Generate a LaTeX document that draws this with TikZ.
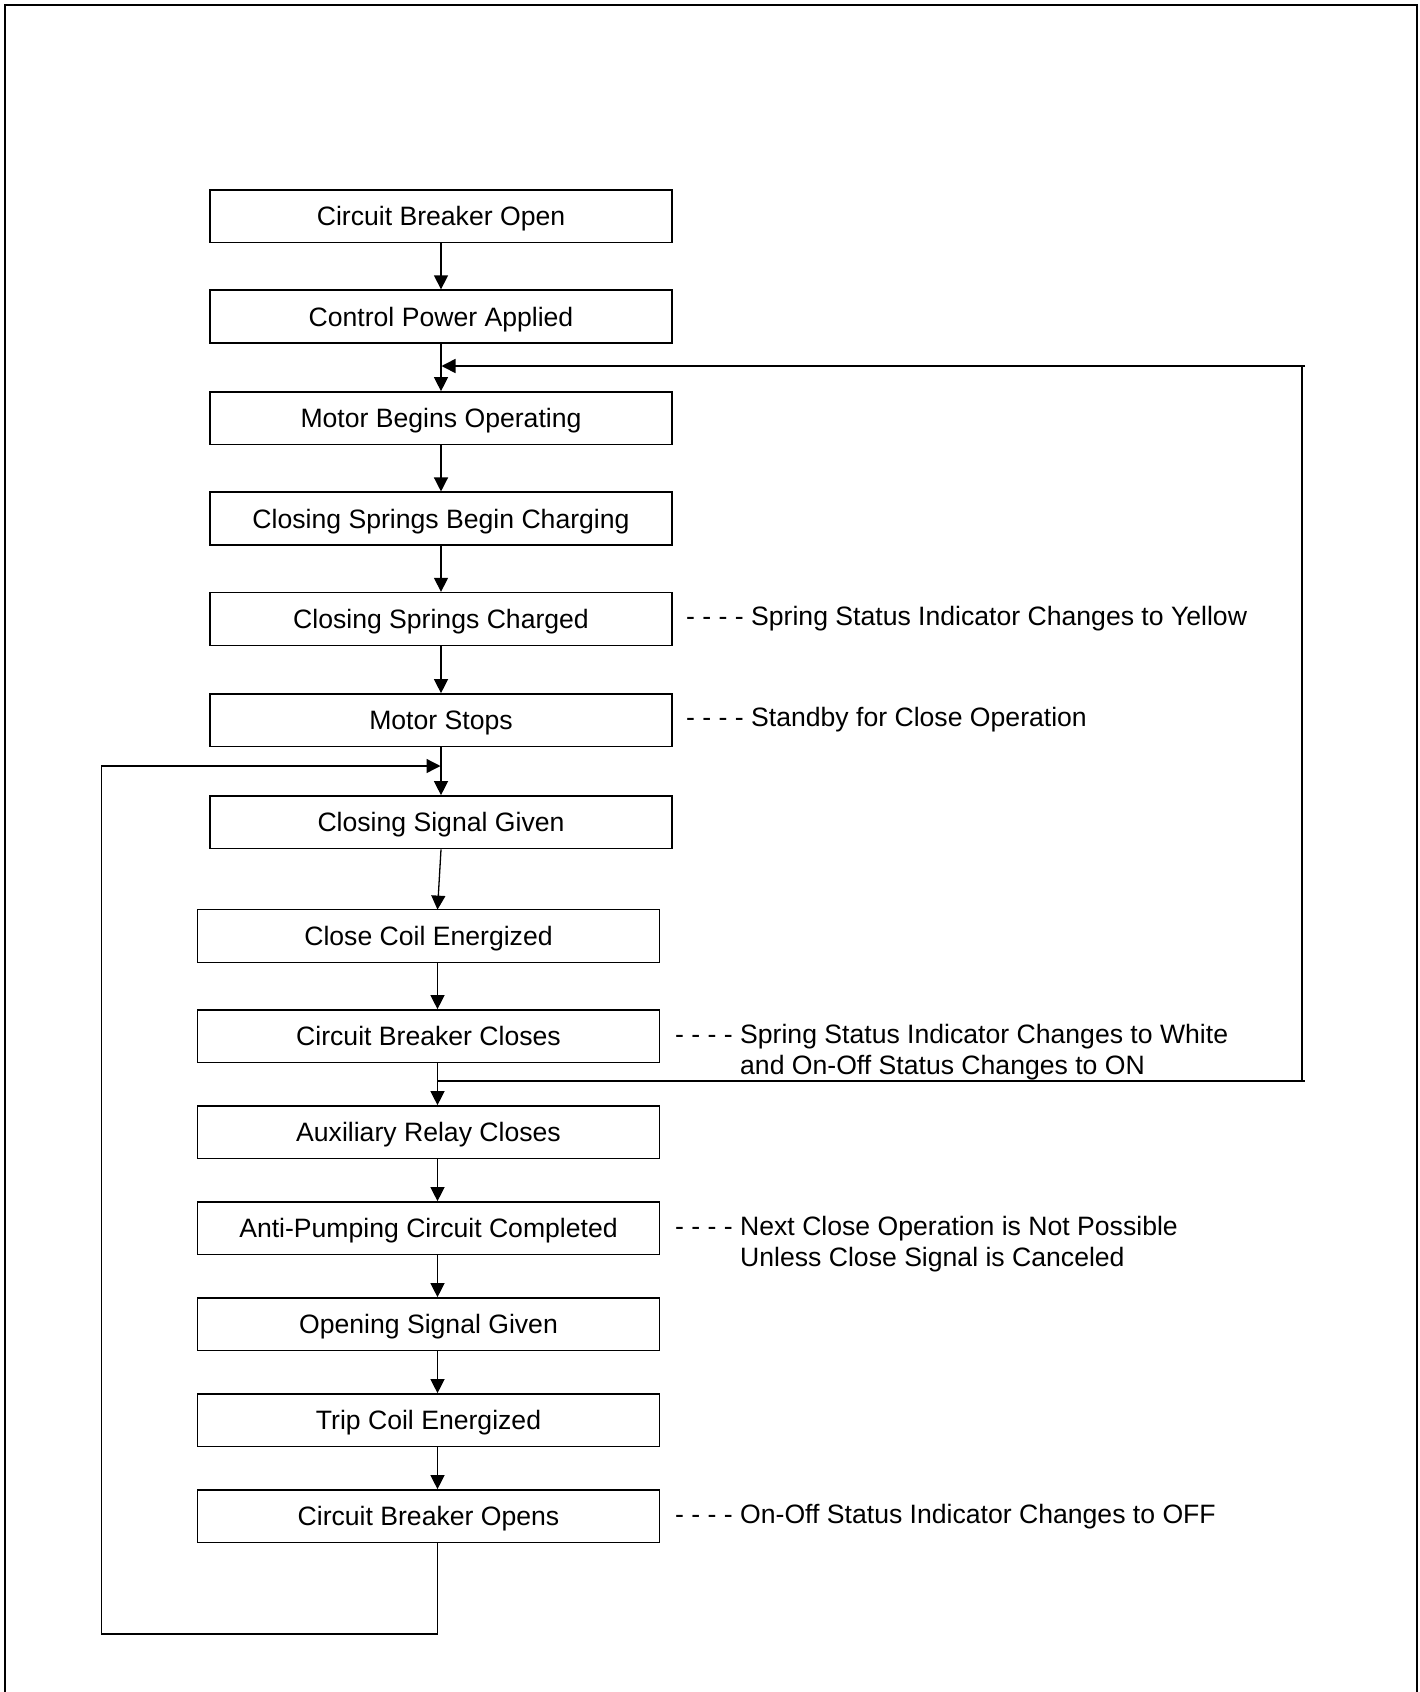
\documentclass[tikz,border=0pt]{standalone}
\usepackage{fontspec}
\setmainfont{Liberation Sans}
\usetikzlibrary{arrows.meta}
\begin{document}
\begin{tikzpicture}[x=1pt,y=-1pt,
  font=\fontsize{26.6}{31}\selectfont,
  stepbox/.style={draw=black,line width=1.6pt,fill=white,inner sep=0pt,
    minimum width=462pt,minimum height=52.7pt,text height=19pt,text depth=0pt},
  flow/.style={line width=1.3pt,-{Triangle[length=14pt,width=14pt]}},
  wire/.style={line width=1.3pt},
  note/.style={anchor=base west,inner sep=0pt},
  frame/.style={line width=2pt}]
\useasboundingbox (0,0) rectangle (1420,1692);
% outer frame (open at the bottom)
\draw[frame] (5.3,1692) -- (5.3,5.3) -- (1416.7,5.3) -- (1416.7,1692);
% column 1
\node[stepbox] (b1) at (441,216.3) {Circuit Breaker Open};
\node[stepbox] (b2) at (441,316.5) {Control Power Applied};
\node[stepbox] (b3) at (441,418.3) {Motor Begins Operating};
\node[stepbox] (b4) at (441,518.6) {Closing Springs Begin Charging};
\node[stepbox] (b5) at (441,619.0) {Closing Springs Charged};
\node[stepbox] (b6) at (441,720.3) {Motor Stops};
\node[stepbox] (b7) at (441,822.3) {Closing Signal Given};
% column 2
\node[stepbox] (b8) at (428.5,936.0) {Close Coil Energized};
\node[stepbox] (b9) at (428.5,1036.3) {Circuit Breaker Closes};
\node[stepbox] (b10) at (428.5,1132.3) {Auxiliary Relay Closes};
\node[stepbox] (b11) at (428.5,1228.3) {Anti-Pumping Circuit Completed};
\node[stepbox] (b12) at (428.5,1324.3) {Opening Signal Given};
\node[stepbox] (b13) at (428.5,1420.3) {Trip Coil Energized};
\node[stepbox] (b14) at (428.5,1516.3) {Circuit Breaker Opens};
% notes
\node[note] (n5) at (686,625.5) {- - - - Spring Status Indicator Changes to Yellow};
\node[note] (n6) at (686,726.6) {- - - - Standby for Close Operation};
\node[note] (n9) at (675,1043) {- - - - Spring Status Indicator Changes to White};
\node[note] (n9b) at (740,1074) {and On-Off Status Changes to ON};
\node[note] (n11) at (675,1235) {- - - - Next Close Operation is Not Possible};
\node[note] (n11b) at (740,1266) {Unless Close Signal is Canceled};
\node[note] (n14) at (675,1523) {- - - - On-Off Status Indicator Changes to OFF};
% column 1 arrows
\draw[flow] (b1.south) -- (b2.north);
\draw[flow] (b2.south) -- (b3.north);
\draw[flow] (b3.south) -- (b4.north);
\draw[flow] (b4.south) -- (b5.north);
\draw[flow] (b5.south) -- (b6.north);
\draw[flow] (b6.south) -- (b7.north);
% column 2 arrows (off-centre at x = 437.5)
\coordinate (c8t) at (437.5,909.6);
\draw[flow] (b7.south) -- (c8t);
\draw[flow] (b8.south -| c8t) -- (b9.north -| c8t);
\draw[flow] (b9.south -| c8t) -- (b10.north -| c8t);
\draw[flow] (b10.south -| c8t) -- (b11.north -| c8t);
\draw[flow] (b11.south -| c8t) -- (b12.north -| c8t);
\draw[flow] (b12.south -| c8t) -- (b13.north -| c8t);
\draw[flow] (b13.south -| c8t) -- (b14.north -| c8t);
% right feedback loop
\coordinate (j1) at (437.5,1081);
\coordinate (r1) at (1302,1081);
\coordinate (r0) at (1302,366);
\coordinate (j0) at (441.5,366);
\draw[wire] (j1) -- ([xshift=3pt]r1);
\draw[wire] (r1) -- (r0);
\draw[flow,line width=1.6pt] ([xshift=3pt]r0) -- (j0);
% left loop
\coordinate (l1) at (437.5,1634);
\coordinate (l2) at (101.5,1634);
\coordinate (l3) at (101.5,766);
\coordinate (j2) at (440.5,766);
\draw[flow] (b14.south -| l1) -- (l1) -- (l2) -- (l3) -- (j2);
\end{tikzpicture}
\end{document}
